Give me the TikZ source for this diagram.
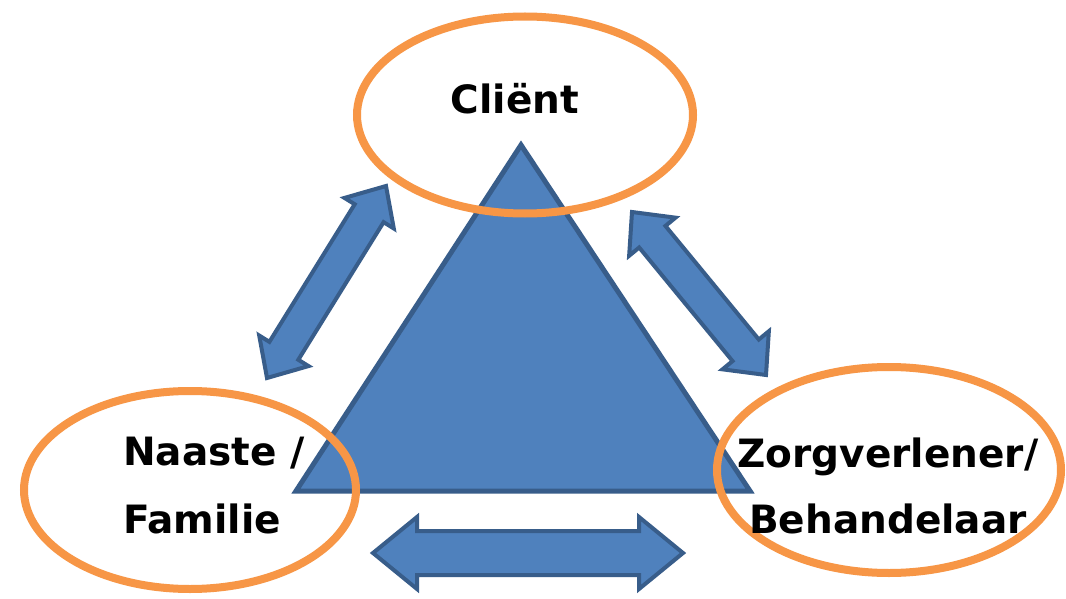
\documentclass[tikz,border=0pt]{standalone}
\usepackage{fontspec}
\setmainfont{DejaVu Sans}
\usetikzlibrary{shapes.geometric,calc}
\definecolor{bluefill}{HTML}{4F81BD}
\definecolor{blueline}{HTML}{385D8A}
\definecolor{orangeline}{HTML}{F79646}
\tikzset{
  arrowbody/.style={fill=bluefill, draw=blueline, line width=4pt, line join=miter},
  tribody/.style={fill=bluefill, draw=blueline, line width=5pt, line join=miter},
  ring/.style={ellipse, draw=orangeline, line width=8pt, inner sep=0pt},
  lbl/.style={font=\bfseries\fontsize{39}{47}\selectfont, inner sep=0pt, text=black}
}
% #1 A, #2 B, #3 shaft half width, #4 head half width, #5 head length, #6 prefix
\newcommand\dblarrow[6]{%
  \coordinate (#6s1) at ($(#1)!#5!(#2)$);
  \coordinate (#6s2) at ($(#2)!#5!(#1)$);
  \draw[arrowbody] (#1) -- ($(#6s1)!#4!90:(#2)$) -- ($(#6s1)!#3!90:(#2)$)
    -- ($(#6s2)!#3!-90:(#1)$) -- ($(#6s2)!#4!-90:(#1)$) -- (#2)
    -- ($(#6s2)!#4!90:(#1)$) -- ($(#6s2)!#3!90:(#1)$)
    -- ($(#6s1)!#3!-90:(#2)$) -- ($(#6s1)!#4!-90:(#2)$) -- cycle;
}
\begin{document}
\begin{tikzpicture}[x=1pt,y=-1pt]
\useasboundingbox[fill=white] (0,0) rectangle (1066,599);
% triangle
\coordinate (apex) at (521,145);
\coordinate (bl) at (296,491);
\coordinate (br) at (750,491);
\draw[tribody] (apex) -- (bl) -- (br) -- cycle;
% arrows
\coordinate (la) at (267,378);
\coordinate (lb) at (386,186);
\coordinate (ra) at (632,212);
\coordinate (rb) at (766,375);
\coordinate (ba) at (373,553);
\coordinate (bb) at (683,553);
\dblarrow{la}{lb}{17pt}{29pt}{32pt}{L}
\dblarrow{ra}{rb}{17pt}{30pt}{32pt}{R}
\dblarrow{ba}{bb}{22pt}{36pt}{44pt}{B}
% ellipses
\node[ring, minimum width=336pt, minimum height=197pt] (client) at (525,115) {};
\node[ring, minimum width=332pt, minimum height=198pt] (family) at (190,490) {};
\node[ring, minimum width=344pt, minimum height=206pt] (carer) at (889,470) {};
% labels
\node[lbl, anchor=base] (tclient) at (515,114) {Cliënt};
\node[lbl, anchor=base west] (tfam1) at (123,465) {Naaste /};
\node[lbl, anchor=base west] (tfam2) at (123,533) {Familie};
\node[lbl, anchor=base] (tcar1) at (888,467) {Zorgverlener/};
\node[lbl, anchor=base] (tcar2) at (888,533) {Behandelaar};
\end{tikzpicture}
\end{document}
